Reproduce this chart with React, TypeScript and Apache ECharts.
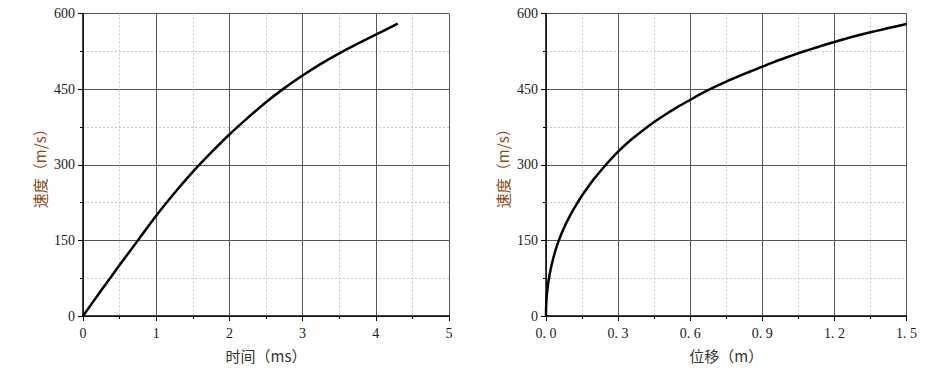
import React, { useEffect, useRef } from "react";
import * as echarts from "echarts";

const timeMs = [0, 0.25, 0.5, 0.75, 1, 1.25, 1.5, 1.75, 2, 2.25, 2.5, 2.75, 3, 3.25, 3.5, 3.75, 4, 4.3];
const speedByTime = [0, 51, 101, 150, 199, 244, 286, 324, 360, 393, 424, 452, 477, 500, 521, 540, 558, 580];

const dispM = [0, 0.0005, 0.002, 0.005, 0.01, 0.02, 0.03, 0.04, 0.055, 0.075, 0.1, 0.125, 0.15, 0.175, 0.2, 0.25, 0.3, 0.35, 0.4, 0.45, 0.5, 0.55, 0.6, 0.65, 0.7, 0.75, 0.8, 0.85, 0.9, 0.95, 1.0, 1.05, 1.1, 1.15, 1.2, 1.25, 1.3, 1.35, 1.4, 1.45, 1.5];
const speedByDisp = [0, 17, 32, 49, 68, 94, 114, 131, 152, 175, 199, 220, 239, 256, 272, 300.5, 326, 348, 367, 384.6, 400.6, 415.4, 428.7, 441.9, 453.8, 464.9, 475.1, 485, 494.5, 504.1, 512.8, 521.1, 528.9, 536.4, 543.5, 550.5, 556.8, 562.7, 568.4, 573.8, 579.1];

const yTicks = { min: 0, max: 600, interval: 150 };
const leftXTicks = { min: 0, max: 5, interval: 1 };
const rightXTicks = { min: 0, max: 1.5, interval: 0.3 };

const labelFont = "'Liberation Serif', 'DejaVu Serif', serif";
const cjkFont = "'Noto Sans CJK SC', sans-serif";

function axisCommon() {
  return {
    axisLine: { show: true, onZero: false, lineStyle: { color: "#000", width: 1.5 } },
    axisTick: { show: true, inside: false, length: 5, lineStyle: { color: "#000", width: 1 } },
    minorTick: { show: true, splitNumber: 2, length: 3, lineStyle: { color: "#000", width: 1 } },
    splitLine: { show: true, lineStyle: { color: "#555", width: 1, type: "solid" } },
    minorSplitLine: { show: true, lineStyle: { color: "#c8c8c8", width: 1, type: [2, 2] } },
    axisLabel: { color: "#222", fontFamily: labelFont, fontSize: 14 },
  };
}

export default function App() {
  const ref = useRef<HTMLDivElement>(null);
  useEffect(() => {
    if (!ref.current) return;
    const chart = echarts.init(ref.current, null, { renderer: "svg" });
    const c = axisCommon();
    const yAxis = (gridIndex: number) => ({
      type: "value",
      gridIndex,
      ...yTicks,
      ...c,
      axisLabel: { ...c.axisLabel, margin: 8 },
      name: "速度（m/s）",
      nameLocation: "middle",
      nameGap: 36,
      nameRotate: 90,
      nameTextStyle: { color: "#8b4a1c", fontFamily: cjkFont, fontSize: 15 },
    });
    const lineSeries = (idx: number, xs: number[], ys: number[], smooth: number | boolean) => ({
      type: "line",
      xAxisIndex: idx,
      yAxisIndex: idx,
      data: xs.map((x, i) => [x, ys[i]]),
      smooth,
      showSymbol: false,
      lineStyle: { color: "#000", width: 2.5, join: "round" },
    });
    chart.setOption({
      animation: false,
      backgroundColor: "#fff",
      grid: [
        { left: 83, top: 13.5, width: 366, height: 302.5, containLabel: false },
        { left: 546, top: 13.5, width: 360.5, height: 302.5, containLabel: false },
      ],
      xAxis: [
        {
          type: "value",
          gridIndex: 0,
          ...leftXTicks,
          ...c,
          axisLabel: { ...c.axisLabel, margin: 10 },
          name: "时间（ms）",
          nameLocation: "middle",
          nameGap: 32,
          nameTextStyle: { color: "#333", fontFamily: cjkFont, fontSize: 15 },
        },
        {
          type: "value",
          gridIndex: 1,
          ...rightXTicks,
          ...c,
          axisLabel: {
            ...c.axisLabel,
            margin: 10,
            formatter: (v: number) => v.toFixed(1).replace(".", ". "),
          },
          name: "位移（m）",
          nameLocation: "middle",
          nameGap: 32,
          nameTextStyle: { color: "#333", fontFamily: cjkFont, fontSize: 15 },
        },
      ],
      yAxis: [yAxis(0), yAxis(1)],
      series: [
        lineSeries(0, timeMs, speedByTime, 0.4),
        lineSeries(1, dispM, speedByDisp, 0.25),
      ],
    });
    return () => chart.dispose();
  }, []);
  return (
    <div
      ref={ref}
      style={{ position: "fixed", left: 0, top: 0, width: 943, height: 374, background: "#fff" }}
    />
  );
}
